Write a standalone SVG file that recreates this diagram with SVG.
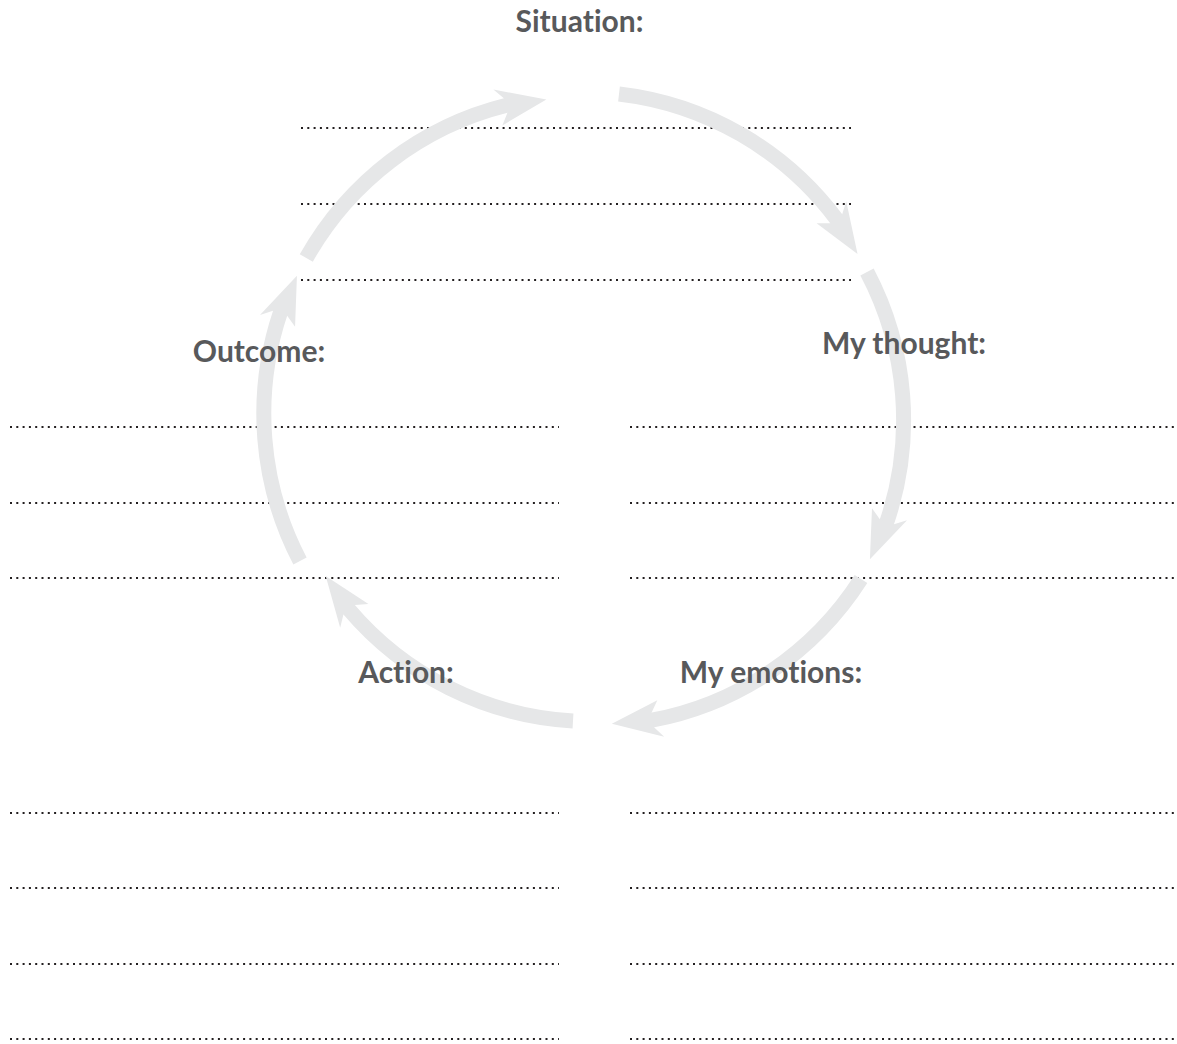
<svg xmlns="http://www.w3.org/2000/svg" width="1177" height="1044" viewBox="0 0 1177 1044">
<style>
.lbl{font-family:Lato,"Open Sans","Liberation Sans",sans-serif;font-weight:700;font-size:30px;fill:#58595b;text-anchor:middle;font-variant-ligatures:none;font-feature-settings:"liga" 0}
.dots{stroke:#231f20;stroke-width:2;stroke-dasharray:2 4.3;fill:none}
.arc{fill:none;stroke:#e6e7e8;stroke-width:15;stroke-linecap:butt;marker-end:url(#head)}
</style>
<defs>
<marker id="head" markerUnits="userSpaceOnUse" orient="auto" viewBox="-20 -30 70 60" markerWidth="70" markerHeight="60" refX="0" refY="0" overflow="visible">
<path d="M40,4 L-9,-18.5 L-1,-7.5 L-1,7.5 L-9,18.5 Z" fill="#e6e7e8"/>
</marker>
</defs>
<rect width="1177" height="1044" fill="#ffffff"/>
<g id="writing-lines">
<line class="dots" x1="301" y1="128" x2="851" y2="128"/>
<line class="dots" x1="301" y1="204" x2="851" y2="204"/>
<line class="dots" x1="301" y1="280" x2="851" y2="280"/>
<line class="dots" x1="10" y1="427" x2="559" y2="427"/>
<line class="dots" x1="10" y1="503" x2="559" y2="503"/>
<line class="dots" x1="10" y1="578" x2="559" y2="578"/>
<line class="dots" x1="630" y1="427" x2="1177" y2="427"/>
<line class="dots" x1="630" y1="503" x2="1177" y2="503"/>
<line class="dots" x1="630" y1="578" x2="1177" y2="578"/>
<line class="dots" x1="10" y1="813" x2="559" y2="813"/>
<line class="dots" x1="10" y1="888" x2="559" y2="888"/>
<line class="dots" x1="10" y1="964" x2="559" y2="964"/>
<line class="dots" x1="10" y1="1039" x2="559" y2="1039"/>
<line class="dots" x1="630" y1="813" x2="1177" y2="813"/>
<line class="dots" x1="630" y1="888" x2="1177" y2="888"/>
<line class="dots" x1="630" y1="964" x2="1177" y2="964"/>
<line class="dots" x1="630" y1="1039" x2="1177" y2="1039"/>
</g>
<g id="connectors">
<path class="arc" d="M619,94 A318,318 0 0 1 836.8,219.5"/>
<path class="arc" d="M867,272 A318,318 0 0 1 886.6,522.7"/>
<path class="arc" d="M861,579 A318,318 0 0 1 651.9,720.2"/>
<path class="arc" d="M573,721 A318,318 0 0 1 348.5,609"/>
<path class="arc" d="M300,561 A318,318 0 0 1 280.4,312.3"/>
<path class="arc" d="M306.3,258 A318,318 0 0 1 506.6,105.3"/>
</g>
<g id="node-situation"><text class="lbl" x="579.5" y="32">Situation:</text></g>
<g id="node-thought"><text class="lbl" x="904" y="354">My thought:</text></g>
<g id="node-emotions"><text class="lbl" x="771" y="683">My emotions:</text></g>
<g id="node-action"><text class="lbl" x="406" y="683">Action:</text></g>
<g id="node-outcome"><text class="lbl" x="259" y="362">Outcome:</text></g>
</svg>
